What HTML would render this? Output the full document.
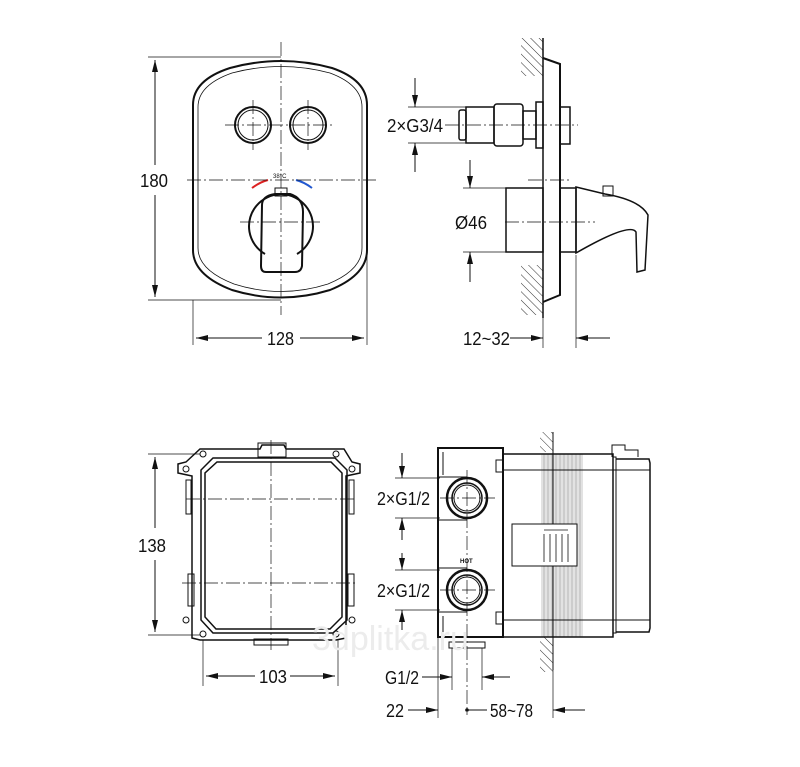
<!DOCTYPE html>
<html><head><meta charset="utf-8"><style>
html,body{margin:0;padding:0;background:#fff}
svg{display:block}
text{font-family:"Liberation Sans",sans-serif;fill:#111}
</style></head><body>
<svg width="800" height="767" viewBox="0 0 800 767" xmlns="http://www.w3.org/2000/svg">
<defs>
<marker id="a" markerWidth="12" markerHeight="6" refX="12" refY="3" orient="auto-start-reverse" markerUnits="userSpaceOnUse"><path d="M0,0 L12,3 L0,6 z" fill="#111"/></marker>
<pattern id="h" width="6" height="6" patternUnits="userSpaceOnUse" patternTransform="rotate(-45)"><line x1="0" y1="0" x2="0" y2="6" stroke="#333" stroke-width="1"/></pattern>
</defs>
<g fill="none" stroke="#111" stroke-width="1">
<path d="M193,105 Q193,80 230,68 Q281,54 332,68 Q367,80 367,105 L367,250 Q367,275 330,290 Q281,305 232,290 Q193,275 193,250 Z" stroke-width="2"/>
<path d="M198,107 Q198,85 232,73 Q281,60 330,73 Q362,85 362,107 L362,248 Q362,270 328,284 Q281,299 234,284 Q198,270 198,248 Z" stroke-width="0.8"/>
<circle cx="253" cy="125" r="18" stroke-width="2"/><circle cx="253" cy="125" r="15"/>
<circle cx="308" cy="125" r="18" stroke-width="2"/><circle cx="308" cy="125" r="15"/>
<path d="M265,254 A32,32 0 1 1 297,254" stroke-width="2"/>
<rect x="275" y="188" width="12" height="8"/>
<path d="M262,205 Q262,196 275,194 L290,194 Q303,198 303,212 L302,266 Q301,272 295,272 L266,272 Q261,272 261,266 Z" stroke-width="2"/>
<path d="M252,188 Q260,182 268,180" stroke="#d22" stroke-width="2"/>
<path d="M296,180 Q304,182 312,188" stroke="#2258d0" stroke-width="2"/>
<g stroke-dasharray="14,3,2,3" stroke-width="0.7">
<line x1="281" y1="42" x2="281" y2="315"/><line x1="187" y1="180" x2="376" y2="180"/>
<line x1="225" y1="125" x2="335" y2="125"/><line x1="253" y1="100" x2="253" y2="150"/><line x1="308" y1="100" x2="308" y2="150"/>
<line x1="240" y1="222" x2="323" y2="222"/>
</g>
<line x1="148" y1="57" x2="281" y2="57" stroke-width="0.7"/><line x1="148" y1="300" x2="281" y2="300" stroke-width="0.7"/>
<line x1="155" y1="60" x2="155" y2="165" marker-start="url(#a)"/><line x1="155" y1="195" x2="155" y2="297" marker-end="url(#a)"/>
<line x1="193" y1="300" x2="193" y2="345" stroke-width="0.7"/><line x1="367" y1="250" x2="367" y2="345" stroke-width="0.7"/>
<line x1="196" y1="338" x2="262" y2="338" marker-start="url(#a)"/><line x1="300" y1="338" x2="364" y2="338" marker-end="url(#a)"/>

<rect x="521" y="38" width="22" height="38" fill="url(#h)" stroke="none"/>
<rect x="521" y="265" width="22" height="50" fill="url(#h)" stroke="none"/>
<line x1="543" y1="38" x2="543" y2="318" stroke-width="1.5"/>
<path d="M543,58 L560,64 L560,295 L543,302" stroke-width="2"/>
<rect x="560" y="107" width="10" height="37" stroke-width="1.5"/>
<rect x="536" y="102" width="7" height="46" stroke-width="1.5"/>
<rect x="523" y="111" width="13" height="28" stroke-width="1.5"/>
<rect x="494" y="104" width="29" height="42" stroke-width="1.5" rx="3"/>
<rect x="466" y="107" width="28" height="36" stroke-width="1.5"/>
<rect x="459" y="110" width="7" height="30" stroke-width="1.5" rx="2"/>
<rect x="506" y="188" width="37" height="64" stroke-width="1.5"/>
<rect x="560" y="188" width="16" height="64" stroke-width="1.5"/>
<path d="M576,187 L605,194 Q640,200 648,215 L645,270 L637,272 L636,232 Q630,222 576,253 Z" stroke-width="1.5"/>
<rect x="603" y="186" width="10" height="10"/>
<g stroke-dasharray="14,3,2,3" stroke-width="0.7"><line x1="445" y1="125" x2="578" y2="125"/><line x1="505" y1="222" x2="595" y2="222"/><line x1="528" y1="180" x2="572" y2="180"/></g>
<line x1="408" y1="107" x2="470" y2="107" stroke-width="0.7"/><line x1="408" y1="143" x2="470" y2="143" stroke-width="0.7"/>
<line x1="415" y1="78" x2="415" y2="107" marker-end="url(#a)"/><line x1="415" y1="172" x2="415" y2="143" marker-end="url(#a)"/>
<line x1="463" y1="188" x2="506" y2="188" stroke-width="0.7"/><line x1="463" y1="252" x2="506" y2="252" stroke-width="0.7"/>
<line x1="470" y1="160" x2="470" y2="188" marker-end="url(#a)"/><line x1="470" y1="282" x2="470" y2="252" marker-end="url(#a)"/>
<line x1="576" y1="255" x2="576" y2="348" stroke-width="0.7"/><line x1="543" y1="318" x2="543" y2="348" stroke-width="0.7"/>
<line x1="510" y1="338" x2="543" y2="338" marker-end="url(#a)"/><line x1="610" y1="338" x2="576" y2="338" marker-end="url(#a)"/>

<path d="M200,449 L260,449 L262,445 L284,445 L286,449 L344,449 L352,462 L360,464 L360,473 L346,476 L346,638 L336,640 L200,640 L192,638 L192,476 L178,473 L178,464 L186,462 Z" stroke-width="1.5"/>
<path d="M213,458 L335,458 L347,470 L347,620 L333,633 L213,633 L201,620 L201,470 Z" stroke-width="1.5"/>
<path d="M217,462 L331,462 L342,473 L342,617 L330,629 L216,629 L205,617 L205,473 Z" stroke-width="1.5"/>
<rect x="258" y="443" width="28" height="14"/><rect x="254" y="639" width="34" height="6"/>
<rect x="186" y="480" width="5" height="34"/><rect x="349" y="480" width="5" height="34"/>
<rect x="188" y="574" width="6" height="32"/><rect x="348" y="574" width="6" height="32"/>
<circle cx="186" cy="469" r="3"/><circle cx="352" cy="469" r="3"/><circle cx="186" cy="620" r="3"/><circle cx="352" cy="620" r="3"/>
<circle cx="203" cy="454" r="3"/><circle cx="336" cy="454" r="3"/><circle cx="203" cy="634" r="3"/><circle cx="336" cy="634" r="3"/>
<g stroke-dasharray="14,3,2,3" stroke-width="0.7"><line x1="271" y1="440" x2="271" y2="650"/><line x1="186" y1="499" x2="355" y2="499"/><line x1="182" y1="583" x2="355" y2="583"/></g>
<line x1="148" y1="454" x2="200" y2="454" stroke-width="0.7"/><line x1="148" y1="635" x2="200" y2="635" stroke-width="0.7"/>
<line x1="155" y1="457" x2="155" y2="528" marker-start="url(#a)"/><line x1="155" y1="560" x2="155" y2="632" marker-end="url(#a)"/>
<line x1="203" y1="640" x2="203" y2="686" stroke-width="0.7"/><line x1="338" y1="640" x2="338" y2="686" stroke-width="0.7"/>
<line x1="206" y1="676" x2="255" y2="676" marker-start="url(#a)"/><line x1="290" y1="676" x2="335" y2="676" marker-end="url(#a)"/>

<rect x="540" y="432" width="13" height="20" fill="url(#h)" stroke="none"/>
<rect x="540" y="637" width="13" height="35" fill="url(#h)" stroke="none"/>
<rect x="541" y="454" width="42" height="183" fill="#e2e2e2" stroke="none"/>
<g stroke="#999" stroke-width="0.6">
<line x1="544" y1="454" x2="544" y2="637"/><line x1="548" y1="454" x2="548" y2="637"/><line x1="552" y1="454" x2="552" y2="637"/><line x1="556" y1="454" x2="556" y2="637"/><line x1="560" y1="454" x2="560" y2="637"/><line x1="564" y1="454" x2="564" y2="637"/><line x1="568" y1="454" x2="568" y2="637"/><line x1="572" y1="454" x2="572" y2="637"/><line x1="576" y1="454" x2="576" y2="637"/><line x1="580" y1="454" x2="580" y2="637"/>
</g>
<line x1="553" y1="432" x2="553" y2="670"/>
<rect x="438" y="448" width="65" height="189" stroke-width="2"/>
<rect x="503" y="454" width="110" height="183" stroke-width="1.5"/>
<rect x="613" y="457" width="3" height="176"/>
<path d="M616,459 L649,459 L650,463 L650,628 L649,632 L616,632" stroke-width="1.5"/>
<path d="M612,457 L612,445 L625,445 L625,450 L638,450 L638,457"/>
<rect x="496" y="460" width="7" height="12"/><rect x="496" y="612" width="7" height="12"/>
<line x1="443" y1="452" x2="443" y2="475"/><line x1="443" y1="616" x2="443" y2="637"/>
<line x1="503" y1="470" x2="650" y2="470"/><line x1="503" y1="620" x2="650" y2="620"/>
<rect x="512" y="524" width="65" height="42" fill="#fff"/>
<g stroke-width="0.8"><line x1="544" y1="530" x2="568" y2="530"/><line x1="544" y1="534" x2="544" y2="562"/><line x1="550" y1="534" x2="550" y2="562"/><line x1="556" y1="534" x2="556" y2="562"/><line x1="562" y1="534" x2="562" y2="562"/><line x1="568" y1="534" x2="568" y2="562"/></g>
<rect x="449" y="642" width="36" height="6"/>
<path d="M439,477 L467,477 M439,520 L467,520 M439,568 L467,568 M439,612 L467,612"/>
<circle cx="467" cy="498" r="20" stroke-width="2.5"/><circle cx="467" cy="498" r="15" stroke-width="1.5"/><circle cx="467" cy="498" r="13"/>
<circle cx="467" cy="590" r="20" stroke-width="2.5"/><circle cx="467" cy="590" r="15" stroke-width="1.5"/><circle cx="467" cy="590" r="13"/>
<g stroke-dasharray="14,3,2,3" stroke-width="0.7"><line x1="467" y1="470" x2="467" y2="715"/><line x1="440" y1="498" x2="495" y2="498"/><line x1="440" y1="590" x2="495" y2="590"/></g>
<line x1="395" y1="478" x2="440" y2="478" stroke-width="0.7"/><line x1="395" y1="518" x2="440" y2="518" stroke-width="0.7"/>
<line x1="402" y1="453" x2="402" y2="478" marker-end="url(#a)"/><line x1="402" y1="540" x2="402" y2="518" marker-end="url(#a)"/>
<line x1="395" y1="570" x2="440" y2="570" stroke-width="0.7"/><line x1="395" y1="610" x2="440" y2="610" stroke-width="0.7"/>
<line x1="402" y1="553" x2="402" y2="570" marker-end="url(#a)"/><line x1="402" y1="630" x2="402" y2="610" marker-end="url(#a)"/>
<line x1="438" y1="637" x2="438" y2="718" stroke-width="0.7"/><line x1="452" y1="648" x2="452" y2="690" stroke-width="0.7"/><line x1="482" y1="648" x2="482" y2="690" stroke-width="0.7"/>
<line x1="422" y1="677" x2="452" y2="677" marker-end="url(#a)"/><line x1="510" y1="677" x2="482" y2="677" marker-end="url(#a)"/>
<line x1="408" y1="710" x2="438" y2="710" marker-end="url(#a)"/><line x1="487" y1="710" x2="467" y2="710"/>
<line x1="585" y1="710" x2="553" y2="710" marker-end="url(#a)"/><line x1="553" y1="670" x2="553" y2="718" stroke-width="0.7"/>
</g>
<circle cx="467" cy="710" r="1.8" fill="#111"/>
<text x="312" y="650" font-size="34" style="fill:#ececec">3dplitka.ru</text>
<g font-size="18">
<text x="140" y="187" textLength="28" lengthAdjust="spacingAndGlyphs">180</text>
<text x="267" y="345" textLength="27" lengthAdjust="spacingAndGlyphs">128</text>
<text x="387" y="132" textLength="56" lengthAdjust="spacingAndGlyphs">2×G3/4</text>
<text x="455" y="229" textLength="32" lengthAdjust="spacingAndGlyphs">Ø46</text>
<text x="463" y="345" textLength="47" lengthAdjust="spacingAndGlyphs">12~32</text>
<text x="138" y="552" textLength="28" lengthAdjust="spacingAndGlyphs">138</text>
<text x="259" y="683" textLength="28" lengthAdjust="spacingAndGlyphs">103</text>
<text x="377" y="505" textLength="53" lengthAdjust="spacingAndGlyphs">2×G1/2</text>
<text x="377" y="597" textLength="53" lengthAdjust="spacingAndGlyphs">2×G1/2</text>
<text x="385" y="684" textLength="34" lengthAdjust="spacingAndGlyphs">G1/2</text>
<text x="386" y="717" textLength="18" lengthAdjust="spacingAndGlyphs">22</text>
<text x="490" y="717" textLength="43" lengthAdjust="spacingAndGlyphs">58~78</text>
</g>
<text x="273" y="178" font-size="6">38°C</text>
<text x="460" y="563" font-size="6" font-weight="bold">HOT</text>
</svg>
</body></html>
